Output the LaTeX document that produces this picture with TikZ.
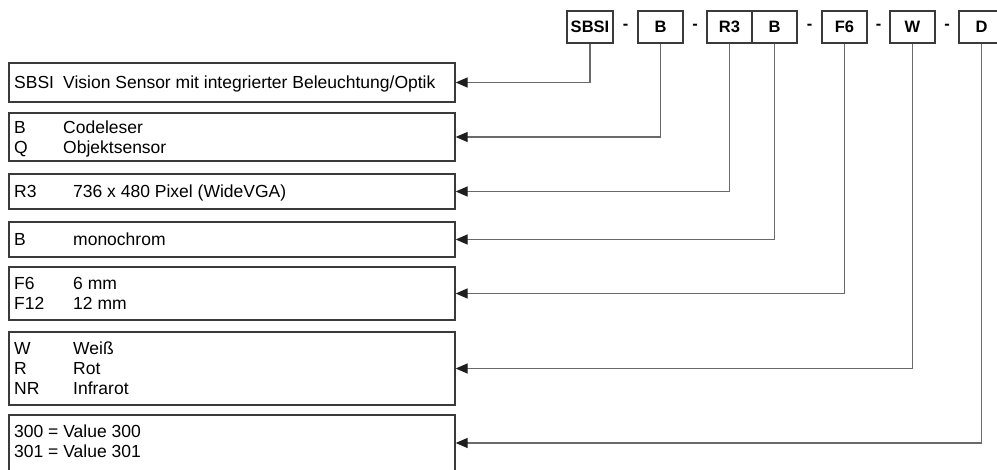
\documentclass[tikz,border=0pt]{standalone}
\usepackage{fontspec}
\setmainfont{Liberation Sans}
\usetikzlibrary{arrows.meta}
\definecolor{boxgray}{HTML}{3A3A3A}
\definecolor{linegray}{HTML}{6A6A6A}
\definecolor{tipgray}{HTML}{1E1E1E}
\begin{document}
\begin{tikzpicture}[x=1pt,y=-1pt,
  codebox/.style={draw=boxgray, line width=1.3pt, minimum width=45pt,
    minimum height=32pt, inner sep=0pt,
    font=\fontsize{16.5}{20}\selectfont\bfseries},
  sep/.style={inner sep=0pt, font=\fontsize{16.5}{20}\selectfont\bfseries},
  legend/.style={draw=boxgray, line width=1.3pt, minimum width=446pt,
    inner sep=0pt},
  txt/.style={anchor=base west, inner sep=0pt,
    font=\fontsize{17.5}{20}\selectfont},
  conn/.style={draw=linegray, line width=1.3pt,
    -{Triangle[length=12pt,width=10pt,color=tipgray]}}]
\useasboundingbox (0,0) rectangle (997,470);
\clip (0,0) rectangle (997,470);

% type code
\node[codebox, minimum width=46pt] (c1) at (590,27) {SBSI};
\node[sep] (d1) at (625.5,27) {-};
\node[codebox] (c2) at (660.5,27) {B};
\node[sep] (d2) at (695,27) {-};
\node[codebox] (c3) at (729.5,27) {R3};
\node[codebox] (c4) at (774.5,27) {B};
\node[sep] (d3) at (809.5,27) {-};
\node[codebox] (c5) at (844.5,27) {F6};
\node[sep] (d4) at (878.5,27) {-};
\node[codebox] (c6) at (912.5,27) {W};
\node[sep] (d5) at (947,27) {-};
\node[codebox] (c7) at (981.5,27) {D};

% legend boxes
\node[legend, minimum height=39pt] (b1) at (232,82.5) {};
\node[legend, minimum height=48pt] (b2) at (232,137) {};
\node[legend, minimum height=35pt] (b3) at (232,191.5) {};
\node[legend, minimum height=35pt] (b4) at (232,239.5) {};
\node[legend, minimum height=53pt] (b5) at (232,293.5) {};
\node[legend, minimum height=73pt] (b6) at (232,368.5) {};
\node[legend, minimum height=56pt] (b7) at (232,443) {};

% legend texts
\node[txt] (t1a) at (14,88.5) {SBSI};
\node[txt] (t1b) at (63,88.5) {Vision Sensor mit integrierter Beleuchtung/Optik};
\node[txt] (t2a) at (14,133.5) {B};
\node[txt] (t2b) at (63,133.5) {Codeleser};
\node[txt] (t2c) at (14,153.5) {Q};
\node[txt] (t2d) at (63,153.5) {Objektsensor};
\node[txt] (t3a) at (14,197.5) {R3};
\node[txt] (t3b) at (73,197.5) {736 x 480 Pixel (WideVGA)};
\node[txt] (t4a) at (14,245.5) {B};
\node[txt] (t4b) at (73,245.5) {monochrom};
\node[txt] (t5a) at (14,289.5) {F6};
\node[txt] (t5b) at (73,289.5) {6 mm};
\node[txt] (t5c) at (14,309.5) {F12};
\node[txt] (t5d) at (73,309.5) {12 mm};
\node[txt] (t6a) at (14,354.5) {W};
\node[txt] (t6b) at (73,354.5) {Weiß};
\node[txt] (t6c) at (14,374.5) {R};
\node[txt] (t6d) at (73,374.5) {Rot};
\node[txt] (t6e) at (14,394.5) {NR};
\node[txt] (t6f) at (73,394.5) {Infrarot};
\node[txt] (t7a) at (14,438) {300 = Value 300};
\node[txt] (t7b) at (14,457) {301 = Value 301};

% connectors
\draw[conn] (c1.south) |- (b1.east);
\draw[conn] (c2.south) |- (b2.east);
\draw[conn] (c3.south) |- (b3.east);
\draw[conn] (c4.south) |- (b4.east);
\draw[conn] (c5.south) |- (b5.east);
\draw[conn] (c6.south) |- (b6.east);
\draw[conn] (c7.south) |- (b7.east);
\end{tikzpicture}
\end{document}
